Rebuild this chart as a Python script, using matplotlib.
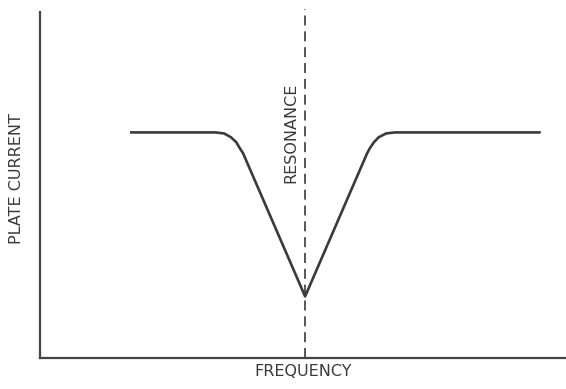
import matplotlib
matplotlib.use("Agg")
import matplotlib.pyplot as plt

# Plate current vs. frequency through resonance (arbitrary units)
freq = [17.1, 33.3, 35.0, 36.3, 37.3, 38.0, 38.6, 50.4,
        62.2, 62.7, 63.5, 64.4, 65.8, 67.5, 95.2]
current = [65.2, 65.2, 64.9, 63.8, 62.4, 60.6, 59.2, 17.8,
           59.2, 60.6, 62.4, 63.8, 64.9, 65.2, 65.2]
resonance_freq = 50.4

x_label = "FREQUENCY"
y_label = "PLATE CURRENT"
marker_label = "RESONANCE"

plt.rcParams['font.family'] = ['DejaVu Sans']

W, H = 566, 389
fig = plt.figure(figsize=(W / 100, H / 100), dpi=100)
left, right, bottom, top = 40, 566, 358, 12
ax = fig.add_axes([left / W, 1 - bottom / H, (right - left) / W, (bottom - top) / H])
ax.set_xlim(0, 100)
ax.set_ylim(0, 100)

ink = "#3a3a3a"
ax.plot(freq, current, color=ink, lw=1.9, solid_joinstyle="round", solid_capstyle="butt")
ax.axvline(resonance_freq, ymin=0, ymax=1.01, color=ink, lw=1.2,
           dashes=(6, 3.5), clip_on=False)

ax.text(resonance_freq - 2.8, 65.0, marker_label, rotation=90, ha="center", va="center",
        fontsize=11.5, color=ink)

for side in ("top", "right"):
    ax.spines[side].set_visible(False)
for side in ("left", "bottom"):
    ax.spines[side].set_color("#444444")
    ax.spines[side].set_linewidth(1.6)
ax.set_xticks([])
ax.set_yticks([])

fig.text(303 / W, 1 - 372 / H, x_label, ha="center", va="center", fontsize=11.5, color=ink)
fig.text(17 / W, 1 - 179 / H, y_label, ha="center", va="center", rotation=90,
         fontsize=11.5, color=ink)

fig.savefig("out.png", dpi=100, facecolor="white")
